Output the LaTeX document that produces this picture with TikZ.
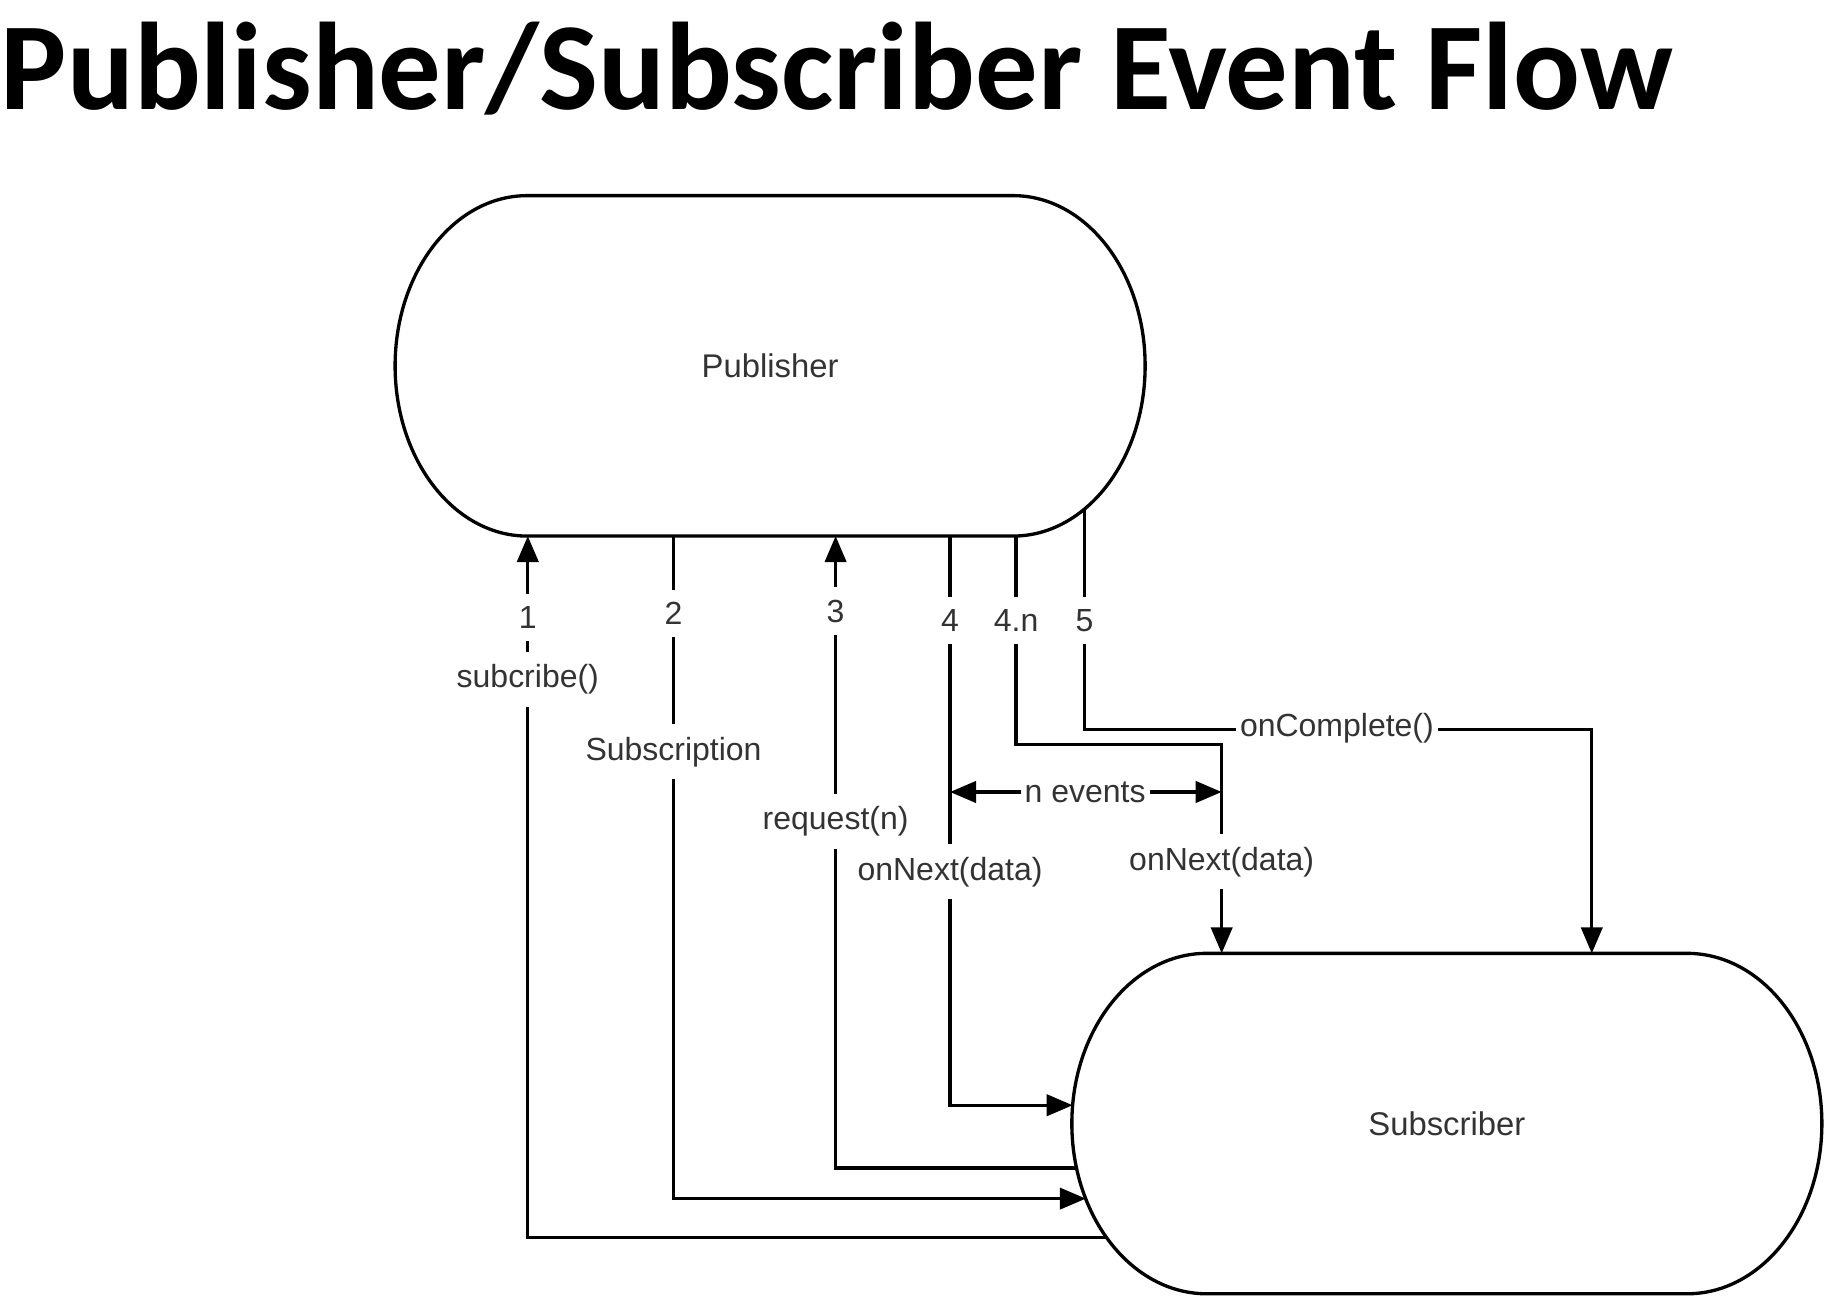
\documentclass[tikz,border=0pt]{standalone}
\usepackage{fontspec}
\setmainfont{Liberation Sans}
\newfontfamily\titlefont{Carlito}
\usetikzlibrary{positioning, calc, arrows.meta}

\tikzset{
  flow/.style={line width=0.8pt},
  tip/.style={-{Triangle[length=2.2mm, width=1.8mm]}},
  both/.style={{Triangle[length=2.2mm, width=1.8mm]}-{Triangle[length=2.2mm, width=1.8mm]}},
  lbl/.style={fill=white, inner xsep=1pt, inner ysep=3pt, font=\fontsize{7.7}{9}\selectfont, text=black!80},
  box/.style={minimum width=6.345cm, minimum height=2.88cm, outer sep=0pt, font=\fontsize{7.9}{9}\selectfont, text=black!80},
}

% outline with flat elliptical ends round a box node
\newcommand{\pill}[2]{%
  \draw[flow] ($(#1.north west)+(#2,0)$) -- ($(#1.north east)-(#2,0)$)
    arc[start angle=90, end angle=-90, x radius=#2, y radius=1.44cm]
    -- ($(#1.south west)+(#2,0)$)
    arc[start angle=270, end angle=90, x radius=#2, y radius=1.44cm] -- cycle;}

\begin{document}
\begin{tikzpicture}
\useasboundingbox (0,0) rectangle (15.6,-11.0);

\node[anchor=base west, inner sep=0, font=\titlefont\bfseries\fontsize{30}{36}\selectfont] (title) at (0,-0.93) {Publisher/Subscriber Event Flow};

\node[box] (pub) at (6.515,-3.095) {Publisher};
\node[box] (sub) at (12.24,-9.505) {Subscriber};
\pill{pub}{1.117cm}
\pill{sub}{1.14cm}

% ends on the publisher
\coordinate (c1) at (4.465,0 |- pub.south);
\coordinate (c2) at (5.698,0 |- pub.south);
\coordinate (c3) at (7.069,0 |- pub.south);
\coordinate (c4) at (8.037,0 |- pub.south);
\coordinate (c4n) at (8.596,0 |- pub.south);
\coordinate (p5) at ($(pub.south east)+(-0.512,0.235)$);
% ends on the subscriber
\coordinate (s1) at ($(sub.west)+(0.296,-0.965)$);
\coordinate (s2) at ($(sub.west)+(0.118,-0.635)$);
\coordinate (s3) at ($(sub.west)+(0.040,-0.375)$);
\coordinate (s4) at ($(sub.west)+(0.007,0.155)$);
\coordinate (t4n) at (10.335,0 |- sub.north);
\coordinate (t5) at (13.466,0 |- sub.north);

\draw[flow, tip] (s1) -| (c1);
\draw[flow, tip] (c2) |- (s2);
\draw[flow, tip] (s3) -| (c3);
\draw[flow, tip] (c4) |- (s4);
\draw[flow, tip] (c4n) -- (c4n |- 0,-6.30) -| (t4n);
\draw[flow, tip] (p5) -- (p5 |- 0,-6.17) -| (t5);
\draw[flow, both] (c4 |- 0,-6.70) -- (t4n |- 0,-6.70);

\node[lbl] (n1) at (c1 |- 0,-5.22) {1};
\node[lbl] (m1) at (c1 |- 0,-5.75) {subcribe()};
\node[lbl] (n2) at (c2 |- 0,-5.19) {2};
\node[lbl] (m2) at (c2 |- 0,-6.36) {Subscription};
\node[lbl] (n3) at (c3 |- 0,-5.17) {3};
\node[lbl] (m3) at (c3 |- 0,-6.95) {request(n)};
\node[lbl] (n4) at (c4 |- 0,-5.25) {4};
\node[lbl] (m4) at (c4 |- 0,-7.375) {onNext(data)};
\node[lbl] (n4n) at (c4n |- 0,-5.25) {4.n};
\node[lbl] (m4n) at (t4n |- 0,-7.29) {onNext(data)};
\node[lbl] (n5) at (p5 |- 0,-5.25) {5};
\node[lbl] (m5) at (11.31,-6.16) {onComplete()};
\node[lbl] (nev) at (9.18,-6.70) {n events};
\end{tikzpicture}
\end{document}
